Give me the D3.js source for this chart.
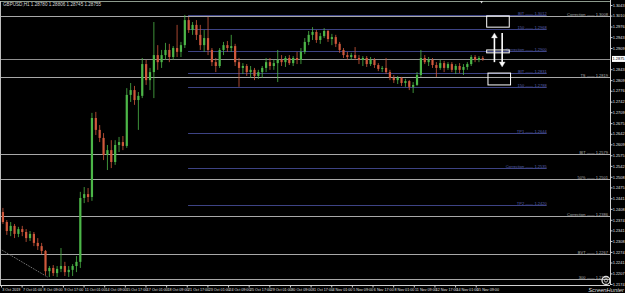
<!DOCTYPE html>
<html>
<head>
<meta charset="utf-8">
<script src="https://cdn.jsdelivr.net/npm/d3@7"></script>
<style>
  body { margin: 0; background: #000; }
  svg { display: block; }
  text { font-family: "Liberation Sans Narrow", "Liberation Sans", sans-serif; }
</style>
</head>
<body>
<script>
  // GBPUSD H1 shown as 6-hour candles
  const opens = [1.2398,1.2367,1.2339,1.2355,1.2330,1.2345,1.2336,1.2317,1.2330,1.2302,1.2292,1.2277,1.2214,1.2224,1.2208,1.2221,1.2230,1.2211,1.2218,1.2230,
    1.2243,1.2442,1.2454,1.2445,1.2691,1.2654,1.2629,1.2576,1.2591,1.2554,1.2607,1.2616,1.2604,1.2763,1.2778,1.2747,1.2760,1.2859,1.2809,1.2834,
    1.2887,1.2865,1.2887,1.2903,1.2881,1.2909,1.2897,1.2918,1.2996,1.2965,1.2981,1.2950,1.2918,1.2940,1.2903,1.2865,1.2853,1.2903,1.2918,1.2909,
    1.2915,1.2865,1.2847,1.2853,1.2834,1.2841,1.2822,1.2834,1.2847,1.2865,1.2853,1.2862,1.2872,1.2865,1.2878,1.2862,1.2878,1.2872,1.2897,1.2928,
    1.2950,1.2959,1.2934,1.2946,1.2962,1.2937,1.2943,1.2922,1.2903,1.2887,1.2881,1.2887,1.2878,1.2872,1.2878,1.2859,1.2872,1.2856,1.2844,1.2847,
    1.2834,1.2816,1.2809,1.2816,1.2800,1.2806,1.2788,1.2794,1.2825,1.2878,1.2865,1.2872,1.2856,1.2847,1.2862,1.2847,1.2859,1.2841,1.2853,1.2841,
    1.2850,1.2859,1.2881,1.2872,1.2878]
  const highs = [1.2411,1.2373,1.2367,1.2361,1.2352,1.2355,1.2345,1.2339,1.2336,1.2317,1.2302,1.2280,1.2230,1.2233,1.2230,1.2286,1.2243,1.2230,1.2236,1.2261,
    1.2461,1.2476,1.2473,1.2707,1.2710,1.2669,1.2644,1.2607,1.2622,1.2622,1.2632,1.2635,1.2784,1.2800,1.2791,1.2772,1.2878,1.2872,1.2847,1.2990,
    1.2918,1.2903,1.2925,1.2922,1.2915,1.2981,1.2928,1.3012,1.3006,1.2990,1.2996,1.2981,1.2965,1.3006,1.2909,1.2878,1.2909,1.2928,1.2931,1.2950,
    1.2922,1.2878,1.2862,1.2859,1.2853,1.2847,1.2841,1.2853,1.2878,1.2878,1.2872,1.2903,1.2887,1.2884,1.2887,1.2884,1.2897,1.2909,1.2940,1.2962,
    1.2974,1.2965,1.2956,1.2971,1.2965,1.2953,1.2950,1.2928,1.2909,1.2897,1.2894,1.2912,1.2887,1.2884,1.2884,1.2881,1.2878,1.2862,1.2853,1.2878,
    1.2841,1.2825,1.2822,1.2819,1.2813,1.2809,1.2803,1.2834,1.2903,1.2887,1.2881,1.2878,1.2865,1.2872,1.2869,1.2865,1.2865,1.2859,1.2862,1.2859,
    1.2865,1.2887,1.2887,1.2884,1.2884]
  const lows = [1.2361,1.2327,1.2323,1.2317,1.2320,1.2323,1.2305,1.2308,1.2292,1.2280,1.2267,1.2202,1.2196,1.2199,1.2196,1.2211,1.2199,1.2196,1.2199,1.2211,
    1.2224,1.2426,1.2429,1.2433,1.2638,1.2616,1.2560,1.2529,1.2535,1.2545,1.2585,1.2591,1.2598,1.2741,1.2732,1.2654,1.2753,1.2794,1.2778,1.2753,
    1.2841,1.2847,1.2872,1.2865,1.2872,1.2881,1.2881,1.2909,1.2956,1.2950,1.2934,1.2903,1.2897,1.2887,1.2853,1.2834,1.2847,1.2887,1.2897,1.2897,
    1.2853,1.2788,1.2828,1.2822,1.2816,1.2809,1.2813,1.2816,1.2834,1.2841,1.2841,1.2803,1.2853,1.2850,1.2856,1.2853,1.2859,1.2859,1.2890,1.2918,
    1.2934,1.2925,1.2922,1.2940,1.2928,1.2918,1.2912,1.2894,1.2878,1.2872,1.2872,1.2872,1.2859,1.2853,1.2850,1.2853,1.2847,1.2837,1.2834,1.2828,
    1.2809,1.2800,1.2797,1.2791,1.2788,1.2778,1.2769,1.2791,1.2819,1.2859,1.2853,1.2847,1.2819,1.2841,1.2834,1.2841,1.2834,1.2828,1.2831,1.2825,
    1.2841,1.2853,1.2865,1.2865,1.2869]
  const closes = [1.2367,1.2339,1.2355,1.2330,1.2345,1.2336,1.2317,1.2330,1.2302,1.2292,1.2277,1.2214,1.2224,1.2208,1.2221,1.2230,1.2211,1.2218,1.2230,1.2243,
    1.2442,1.2454,1.2445,1.2691,1.2654,1.2629,1.2576,1.2591,1.2554,1.2607,1.2616,1.2604,1.2763,1.2778,1.2747,1.2760,1.2859,1.2809,1.2834,1.2887,
    1.2865,1.2887,1.2903,1.2881,1.2909,1.2897,1.2918,1.2996,1.2965,1.2981,1.2950,1.2918,1.2940,1.2903,1.2865,1.2853,1.2903,1.2918,1.2909,1.2915,
    1.2865,1.2847,1.2853,1.2834,1.2841,1.2822,1.2834,1.2847,1.2865,1.2853,1.2862,1.2872,1.2865,1.2878,1.2862,1.2878,1.2872,1.2897,1.2928,1.2950,
    1.2959,1.2934,1.2946,1.2962,1.2937,1.2943,1.2922,1.2903,1.2887,1.2881,1.2887,1.2878,1.2872,1.2878,1.2859,1.2872,1.2856,1.2844,1.2847,1.2834,
    1.2816,1.2809,1.2816,1.2800,1.2806,1.2788,1.2794,1.2825,1.2878,1.2865,1.2872,1.2856,1.2847,1.2862,1.2847,1.2859,1.2841,1.2853,1.2841,1.2850,
    1.2859,1.2881,1.2872,1.2878,1.2875]
  const barsPerCandle = 6

  const priceTicks = [1.3043,1.3010,1.2976,1.2943,1.2909,1.2876,1.2843,1.2809,1.2776,1.2742,1.2709,1.2675,1.2642,1.2609,
    1.2575,1.2542,1.2508,1.2475,1.2441,1.2408,1.2374,1.2341,1.2308,1.2274,1.2241,1.2207,1.2174]
  const timeLabels = ['3 Oct 2019','7 Oct 01:00','8 Oct 09:00','9 Oct 17:00','11 Oct 01:00','14 Oct 09:00','15 Oct 17:00',
    '17 Oct 01:00','18 Oct 09:00','21 Oct 17:00','23 Oct 01:00','24 Oct 09:00','25 Oct 17:00','29 Oct 01:00','30 Oct 09:00',
    '31 Oct 17:00','4 Nov 01:00','5 Nov 09:00','6 Nov 17:00','8 Nov 01:00','11 Nov 09:00','12 Nov 17:00','14 Nov 01:00','15 Nov 09:00']
  const barsPerLabel = 32

  // fibo-style projection levels (blue) and horizontal lines (grey)
  const fiboNames = ['BIT','150','Correction','BIT','150','TP1','Correction','TP2']
  const fiboLevels = [1.3012,1.2968,1.2900,1.2831,1.2788,1.2644,1.2535,1.2420]
  const fiboFrom = 290, fiboTo = 846
  const hlineNames = ['Correction','TS','BIT','50%','Correction','BVT','300']
  const hlineLevels = [1.3008,1.2819,1.2579,1.2501,1.2386,1.2267,1.2190]
  const bid = 1.2875
  const trendFrom = [-4, 1.2286], trendTo = [72, 1.2196]

  // drawn boxes and arrows in the future zone: [fromBar, toBar, top, bottom]
  const boxes = [[753, 788, 1.3009, 1.2974], [753, 788, 1.2903, 1.2894], [755, 790, 1.2831, 1.2794]]
  const arrows = [[765, 1.2865, 1.2956], [777, 1.2956, 1.2850]]

  const W = 625, H = 293
  const plotL = 0, plotR = 610, plotT = 1, plotB = 285
  const pxPerBar = 0.645

  const svg = d3.select('body').append('svg').attr('width', W).attr('height', H)
  svg.append('rect').attr('width', W).attr('height', H).attr('fill', '#000')

  const x = d3.scaleLinear().domain([0, 1000]).range([1, 1 + 1000 * pxPerBar])
  const y = d3.scaleLinear().domain([1.2174, 1.3043]).range([284, 5])

  svg.append('clipPath').attr('id', 'plot')
    .append('rect').attr('x', plotL).attr('y', plotT).attr('width', plotR - plotL).attr('height', plotB - plotT)
  const plot = svg.append('g').attr('clip-path', 'url(#plot)')

  // grey horizontal lines
  const grey = '#a8a8a8'
  plot.selectAll('.hl').data(hlineLevels).join('line')
    .attr('x1', plotL).attr('x2', plotR)
    .attr('y1', d => Math.round(y(d)) + 0.5).attr('y2', d => Math.round(y(d)) + 0.5)
    .attr('stroke', grey).attr('stroke-width', 1)
  plot.selectAll('.hlt').data(hlineLevels).join('text')
    .attr('x', plotR - 2).attr('y', d => Math.round(y(d)) - 0.5)
    .attr('text-anchor', 'end').attr('font-size', 4).attr('fill', '#b0b0b0')
    .text((d, i) => hlineNames[i] + ' \u2014\u2014 ' + d.toFixed(4))

  // bid line
  plot.append('line').attr('x1', plotL).attr('x2', plotR)
    .attr('y1', Math.round(y(bid)) + 0.5).attr('y2', Math.round(y(bid)) + 0.5)
    .attr('stroke', '#909090')

  // fibo lines
  const blue = '#3d4384'
  plot.selectAll('.fl').data(fiboLevels).join('line')
    .attr('x1', x(fiboFrom)).attr('x2', x(fiboTo))
    .attr('y1', d => Math.round(y(d)) + 0.5).attr('y2', d => Math.round(y(d)) + 0.5)
    .attr('stroke', blue)
  plot.selectAll('.flt').data(fiboLevels).join('text')
    .attr('x', x(fiboTo)).attr('y', d => Math.round(y(d)) - 0.5)
    .attr('text-anchor', 'end').attr('font-size', 4).attr('fill', '#5a60b0')
    .text((d, i) => fiboNames[i] + ' \u2014\u2014 ' + d.toFixed(4))

  // dotted trend line
  plot.append('line')
    .attr('x1', x(trendFrom[0])).attr('y1', y(trendFrom[1]))
    .attr('x2', x(trendTo[0])).attr('y2', y(trendTo[1]))
    .attr('stroke', '#8a8a8a').attr('stroke-dasharray', '1,1')

  // candles
  const candles = opens.map((o, i) => ({ o, h: highs[i], l: lows[i], c: closes[i], bar: i * barsPerCandle + barsPerCandle / 2 }))
  const upCol = '#4cb648', downCol = '#d0583c'
  const cg = plot.selectAll('.candle').data(candles).join('g')
  cg.append('line')
    .attr('x1', d => x(d.bar)).attr('x2', d => x(d.bar))
    .attr('y1', d => y(d.h)).attr('y2', d => y(d.l))
    .attr('stroke', d => d.c >= d.o ? upCol : downCol).attr('stroke-width', 0.8)
  cg.append('rect')
    .attr('x', d => x(d.bar) - 1.1).attr('width', 2.2)
    .attr('y', d => y(Math.max(d.o, d.c)))
    .attr('height', d => Math.max(0.8, Math.abs(y(d.o) - y(d.c))))
    .attr('fill', d => d.c >= d.o ? upCol : downCol)

  // boxes and arrows
  plot.selectAll('.box').data(boxes).join('rect')
    .attr('x', d => x(d[0])).attr('width', d => x(d[1]) - x(d[0]))
    .attr('y', d => y(d[2])).attr('height', d => y(d[3]) - y(d[2]))
    .attr('fill', 'none').attr('stroke', '#fff').attr('stroke-width', 1)
  arrows.forEach(([bar, from, to]) => {
    const dir = to > from ? -1 : 1
    const ax = x(bar), y1 = y(from), y2 = y(to)
    plot.append('line').attr('x1', ax).attr('x2', ax).attr('y1', y1).attr('y2', y2 - dir * 4)
      .attr('stroke', '#fff').attr('stroke-width', 1.6)
    plot.append('path')
      .attr('d', `M${ax},${y2} L${ax - 3},${y2 - dir * 5} L${ax + 3},${y2 - dir * 5} Z`)
      .attr('fill', '#fff').attr('stroke', '#bbb').attr('stroke-width', 0.4)
  })

  // frame
  svg.append('line').attr('x1', 0).attr('x2', plotR).attr('y1', 1.5).attr('y2', 1.5).attr('stroke', '#8c9a8c')
  svg.append('line').attr('x1', 0.5).attr('x2', 0.5).attr('y1', 1).attr('y2', plotB).attr('stroke', '#bdbdbd')

  // price axis
  const yAxis = svg.append('g').attr('transform', `translate(${plotR + 0.5},0)`)
    .call(d3.axisRight(y).tickValues(priceTicks).tickSize(2).tickFormat(d3.format('.4f')))
  yAxis.select('.domain').attr('stroke', '#d0d0d0').attr('d', `M0,0V${plotB}`)
  yAxis.selectAll('.tick line').attr('stroke', '#d0d0d0')
  yAxis.selectAll('.tick text').attr('fill', '#e0e0e0').attr('font-size', 3.9).attr('x', 2.2)
    .attr('font-family', '"Liberation Sans Narrow", "Liberation Sans", sans-serif')
  yAxis.selectAll('.tick').filter(d => Math.abs(y(d) - y(bid)) < 4).remove()

  const bidG = svg.append('g').attr('transform', `translate(${plotR + 1},${y(bid)})`)
  bidG.append('rect').attr('x', 1).attr('y', -3).attr('width', 13).attr('height', 6).attr('fill', '#fff')
  bidG.append('text').attr('x', 1.6).attr('y', 1.5).attr('font-size', 3.9).attr('fill', '#000').text(bid.toFixed(4))

  // time axis
  const timeBars = timeLabels.map((t, i) => i * barsPerLabel)
  const xAxis = svg.append('g').attr('transform', `translate(0,${plotB + 0.5})`)
    .call(d3.axisBottom(x).tickValues(timeBars).tickSize(2).tickFormat((d, i) => timeLabels[i]))
  xAxis.select('.domain').attr('stroke', '#d0d0d0').attr('d', `M0,0H${plotR}`)
  xAxis.selectAll('.tick line').attr('stroke', '#d0d0d0')
  xAxis.selectAll('.tick text').attr('fill', '#e0e0e0').attr('font-size', 3.7)
    .attr('text-anchor', 'start').attr('dx', 0.8).attr('y', 2.5)
    .attr('font-family', '"Liberation Sans Narrow", "Liberation Sans", sans-serif')

  // chart shift marker
  svg.append('path').attr('d', `M${x(745) - 1.5},1 L${x(745) + 1.5},1 L${x(745)},3.5 Z`).attr('fill', '#ddd')

  // header
  svg.append('text').attr('x', 3).attr('y', 6).attr('font-size', 4.6).attr('fill', '#d8d8d8')
    .text('GBPUSD,H1  1.28780 1.28806 1.28745 1.28755')

  // screenshot watermark
  const wm = svg.append('g')
  wm.append('circle').attr('cx', 606).attr('cy', 280.5).attr('r', 4).attr('fill', 'none').attr('stroke', '#ddd').attr('stroke-width', 1.3)
  wm.append('circle').attr('cx', 606).attr('cy', 280.5).attr('r', 1.6).attr('fill', 'none').attr('stroke', '#ddd').attr('stroke-width', 0.8)
  wm.append('text').attr('x', 624).attr('y', 291.5).attr('text-anchor', 'end').attr('font-size', 5.8)
    .attr('font-style', 'italic').attr('fill', '#ddd').text('ScreenHunter')
</script>
</body>
</html>
